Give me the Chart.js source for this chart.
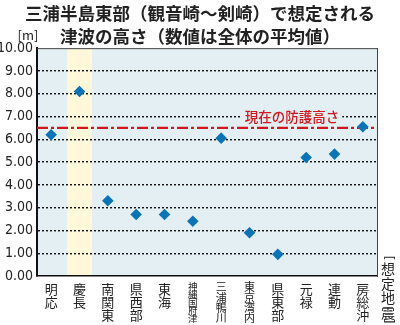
<!DOCTYPE html>
<html lang="ja">
<head>
<meta charset="UTF-8">
<title>三浦半島東部で想定される津波の高さ</title>
<script src="https://cdn.jsdelivr.net/npm/chart.js"></script>
<style>
  html, body { margin: 0; padding: 0; background: #fff; }
  #wrap { width: 400px; height: 325px; }
</style>
</head>
<body>
<div id="wrap"><canvas id="tsunamiChart"></canvas></div>
<script>
const titleLines = ['三浦半島東部（観音崎～剣崎）で想定される', '津波の高さ（数値は全体の平均値）'];
const quakeNames = ['明応', '慶長', '南関東', '県西部', '東海', '神縄国府津', '三浦鴨川', '東京湾内', '県東部', '元禄', '連動', '房総沖'];
const heights = [6.2, 8.1, 3.3, 2.7, 2.7, 2.4, 6.05, 1.9, 0.95, 5.2, 5.35, 6.55];
const protectionHeight = 6.5;
const protectionLabel = '現在の防護高さ';
const highlightIndex = 1;  // 慶長
const yUnit = '[m]';
const xUnit = ['想', '定', '地', '震'];

const JP = '"Noto Sans CJK JP", "Noto Sans", sans-serif';
const PLOT_BG = '#e3eff2';

// label font shrinks with the number of characters so every column ends at the same depth
function tickFont(c) {
    const n = quakeNames[c.index].length;
    if (n >= 5) return { family: JP, size: 9.5, lineHeight: 0.84 };
    if (n === 4) return { family: JP, size: 11, lineHeight: 0.93 };
    return { family: JP, size: 13, lineHeight: 1.03 };
}

// background, highlight band, reference line, extra labels
const decor = {
    id: 'decor',
    beforeDraw(chart) {
        const {ctx, chartArea: a, scales: {x}} = chart;
        ctx.save();
        ctx.fillStyle = PLOT_BG;
        ctx.fillRect(a.left, a.top, a.right - a.left, a.bottom - a.top);
        const cx = x.getPixelForValue(highlightIndex);
        const w = (a.right - a.left) / quakeNames.length * 0.88;
        ctx.fillStyle = '#fdf8d9';
        ctx.fillRect(cx - w / 2, a.top, w, a.bottom - a.top);
        ctx.restore();
    },
    beforeDatasetsDraw(chart) {
        const {ctx, chartArea: a, scales: {y}} = chart;
        const py = y.getPixelForValue(protectionHeight);
        ctx.save();
        ctx.strokeStyle = '#d3151d';
        ctx.lineWidth = 2.2;
        ctx.setLineDash([11, 3, 3, 3]);
        ctx.beginPath();
        ctx.moveTo(a.left, py);
        ctx.lineTo(a.right, py);
        ctx.stroke();
        // label sits on a patch of plot colour so the grid line stops behind it
        ctx.font = '500 13.5px ' + JP;
        ctx.textAlign = 'center';
        ctx.textBaseline = 'middle';
        const tx = 292, ty = py - 11;
        const tw = ctx.measureText(protectionLabel).width;
        ctx.fillStyle = PLOT_BG;
        ctx.fillRect(tx - tw / 2 - 3, ty - 5, tw + 6, 10);
        ctx.fillStyle = '#d3151d';
        ctx.fillText(protectionLabel, tx, ty);
        ctx.restore();
    },
    afterDraw(chart) {
        const {ctx, chartArea: a} = chart;
        ctx.save();
        ctx.strokeStyle = '#444';
        ctx.lineWidth = 1;
        ctx.beginPath();
        ctx.moveTo(a.left, a.top + 0.5);
        ctx.lineTo(a.right, a.top + 0.5);
        ctx.stroke();
        ctx.fillStyle = '#222';
        ctx.font = '13px ' + JP;
        ctx.textAlign = 'center';
        ctx.textBaseline = 'middle';
        ctx.fillText(yUnit, 28, 35);
        // vertical caption: stacked characters, brackets turned on their side
        const vx = 388;
        ctx.font = '14px ' + JP;
        xUnit.forEach((ch, i) => ctx.fillText(ch, vx, 269 + i * 14.5));
        ctx.font = '13px "DejaVu Sans", sans-serif';
        [['[', 258], [']', 321]].forEach(([b, by]) => {
            ctx.save();
            ctx.translate(vx, by);
            ctx.rotate(Math.PI / 2);
            ctx.fillText(b, 0, 0);
            ctx.restore();
        });
        ctx.restore();
    }
};

new Chart(document.getElementById('tsunamiChart'), {
    type: 'line',
    data: {
        labels: quakeNames.map(s => s.split('')),
        datasets: [{
            data: heights,
            showLine: false,
            pointStyle: 'rectRot',
            pointRadius: 5.8,
            pointBackgroundColor: '#0b74b6',
            pointBorderColor: '#0b74b6',
            pointBorderWidth: 0
        }]
    },
    options: {
        responsive: true,
        maintainAspectRatio: false,
        animation: false,
        layout: { padding: 0 },
        plugins: {
            legend: { display: false },
            tooltip: { enabled: false },
            title: {
                display: true,
                text: titleLines,
                color: '#222',
                font: { family: JP, size: 17.5, weight: 'bold', lineHeight: 1.29 },
                padding: { top: 2, bottom: 1 }
            }
        },
        scales: {
            x: {
                offset: true,
                grid: { display: false, drawTicks: false },
                border: { color: '#111', width: 1.5 },
                ticks: {
                    color: '#222',
                    padding: 6,
                    maxRotation: 0,
                    autoSkip: false,
                    font: tickFont
                },
                afterFit: s => { s.height = 49; }
            },
            y: {
                min: 0,
                max: 10,
                ticks: {
                    stepSize: 1,
                    color: '#222',
                    padding: 4,
                    font: { family: '"Liberation Sans Narrow", "DejaVu Sans Condensed", sans-serif', size: 14 },
                    callback: v => v.toFixed(2)
                },
                grid: {
                    color: c => (c.tick.value > 0 && c.tick.value < 10) ? '#111' : 'rgba(0,0,0,0)',
                    lineWidth: 1.4,
                    drawTicks: false
                },
                border: { color: '#111', width: 2, dash: [2, 2] },
                afterFit: s => { s.width = 37; }
            },
            y2: {
                position: 'right',
                min: 0,
                max: 10,
                ticks: { display: false },
                grid: { display: false, drawTicks: false },
                border: { color: '#444', width: 1 },
                afterFit: s => { s.width = 23; }
            }
        }
    },
    plugins: [decor]
});
</script>
</body>
</html>
